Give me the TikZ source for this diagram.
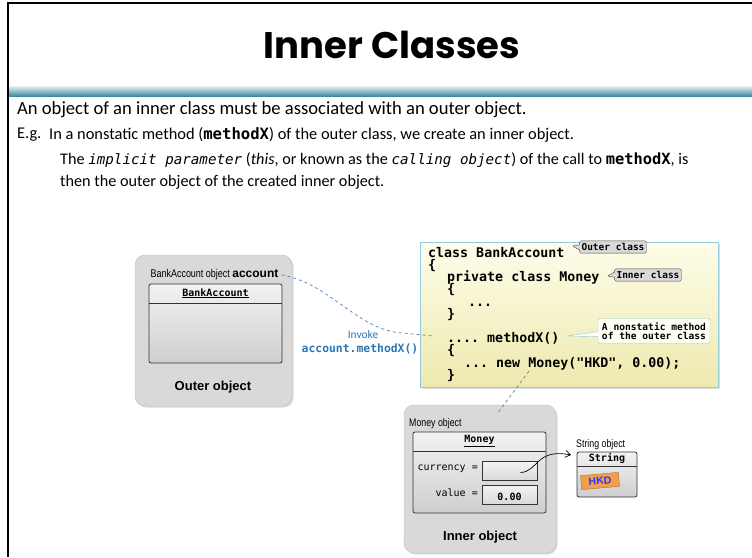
\documentclass[tikz,border=0pt]{standalone}
\usepackage{fontspec}
\setmainfont{Carlito}
\setmonofont{DejaVu Sans Mono}
\newfontfamily\titlefont{Poppins}
\newfontfamily\labelfont{Liberation Sans}
\newfontfamily\narrowfont[FakeStretch=0.8]{Liberation Sans}
\usetikzlibrary{positioning,shadows,shapes.callouts,arrows.meta}

\definecolor{panelgray}{HTML}{D9D9D9}
\definecolor{barteal}{HTML}{3C8BA3}
\definecolor{codeborder}{HTML}{93CDDD}
\definecolor{codetop}{HTML}{FDFDEA}
\definecolor{codebottom}{HTML}{EEE9AE}
\definecolor{linkblue}{HTML}{4F81BD}
\definecolor{invokeblue}{HTML}{2E75B6}
\definecolor{tagorange}{HTML}{F0A04B}
\definecolor{hkdblue}{HTML}{3333FF}

\newcommand{\setfs}[1]{\fontsize{#1}{#1}\selectfont}
% tight listing font
\newcommand{\codefont}{\fontsize{13.3}{12.2}\selectfont\setlength{\lineskiplimit}{-20pt}\ttfamily\bfseries}

\begin{document}
\begin{tikzpicture}[x=1pt,y=-1pt,
  every node/.style={inner sep=0pt},
  objpanel/.style={draw=gray!50,fill=panelgray,rounded corners=10pt,
    drop shadow={opacity=0.3,shadow xshift=1.5pt,shadow yshift=-1.5pt}},
  classbox/.style={draw=black!80,line width=0.8pt,rounded corners=2pt,
    top color=gray!10,bottom color=gray!38},
  fieldbox/.style={draw=black!80,line width=0.8pt,top color=gray!8,
    bottom color=gray!30,minimum width=55pt,minimum height=19pt},
  notetag/.style={rectangle callout,draw=gray!60!black,fill=panelgray,
    rounded corners=1.5pt,inner xsep=2pt,inner ysep=2.5pt,
    callout pointer width=5pt,font=\setfs{9.5}\ttfamily\bfseries},
  link/.style={draw=linkblue,dashed,line width=0.7pt},
  classname/.style={font=\setfs{10}\ttfamily\bfseries},
  fieldname/.style={font=\setfs{10}\ttfamily,anchor=east},
  objname/.style={font=\narrowfont\setfs{11},anchor=west},
  objcaption/.style={font=\labelfont\bfseries\setfs{13}}]

  \useasboundingbox (0,0) rectangle (752,557);

  % slide frame and title bar
  \draw[line width=2pt] (8,557) -- (8,3) -- (752,3);
  \shade[top color=barteal!12,bottom color=barteal] (9,86) rectangle (752,96);
  \node (title) at (392,45) {\titlefont\bfseries\setfs{37}Inner Classes};

  % text lines
  \node[anchor=west] (line1) at (17,110)
    {\setfs{18.6}An object of an inner class must be associated with an outer object.};
  \node[anchor=west] (eg) at (17,135) {\setfs{16.4}E.g.};
  \node[anchor=west] (line2) at (49,135)
    {\setfs{16.4}In a nonstatic method (\texttt{\bfseries\setfs{15.6}methodX}) of the outer class, we create an inner object.};
  \node[anchor=west] (line3) at (60,160)
    {\setfs{16.2}The \texttt{\itshape\setfs{14.2}implicit parameter} (\textit{this}, or known as the
     \texttt{\itshape\setfs{14.2}calling object}) of the call to \texttt{\bfseries\setfs{15.4}methodX}, is};
  \node[anchor=west] (line4) at (60,182)
    {\setfs{16.2}then the outer object of the created inner object.};

  % outer object
  \node[objpanel,minimum width=157pt,minimum height=151pt] (outer) at (213.5,330.5) {};
  \node (acclabel) at (214.5,275)
    {\narrowfont\setfs{11.2}BankAccount object {\labelfont\bfseries\setfs{12}account}};
  \node[classbox,minimum width=133pt,minimum height=79pt] (bankcls) at (215.5,323.5) {};
  \node[minimum height=19pt,anchor=north] (bankhdr) at (bankcls.north)
    {\setfs{10}\ttfamily\bfseries\underline{BankAccount}};
  \draw[black!80,line width=0.8pt] (bankcls.west |- bankhdr.south) -- (bankcls.east |- bankhdr.south);
  \node[objcaption] (outercap) at (213,387) {Outer object};

  % code of the outer class
  \node[draw=codeborder,line width=1pt,top color=codetop,bottom color=codebottom,
    minimum width=298pt,minimum height=145pt,
    drop shadow={opacity=0.25,shadow xshift=1.5pt,shadow yshift=-1.5pt}] (codebox) at (569,314.5) {};
  \node[anchor=north west,align=left,font=\codefont] (code) at (428,247)
    {class BankAccount\\
     \{\\
     \hspace*{19pt}private class Money\\
     \hspace*{19pt}\{\\
     \hspace*{40pt}...\\
     \hspace*{19pt}\}\\[12.2pt]
     \hspace*{19pt}.... methodX()\\
     \hspace*{19pt}\{\\
     \hspace*{36pt}... new Money("HKD", 0.00);\\
     \hspace*{19pt}\}};

  \node[notetag,callout absolute pointer={(572,246)}] (outertag) at (613,247) {Outer class};
  \node[notetag,callout absolute pointer={(607,276)}] (innertag) at (648,275) {Inner class};
  \node[notetag,draw=codeborder,fill=codetop!60,align=left,inner xsep=4pt,inner ysep=4pt,
    font=\fontsize{9.6}{9}\selectfont\ttfamily\bfseries,
    callout absolute pointer={(566,336)}] (methodtag) at (654,331)
    {A nonstatic method\\of the outer class};

  % the call on account
  \coordinate (callsite) at (433,336);
  \draw[link] ([xshift=3pt]acclabel.east) .. controls (330,283) and (358,331) .. (403,333) -- (callsite);
  \node[text=invokeblue] (invoke) at (363,335) {\setfs{11.5}Invoke};
  \node[text=invokeblue] (invokecall) at (360,349) {\setfs{11.4}\ttfamily\bfseries account.methodX()};

  % inner object
  \node[objpanel,minimum width=152pt,minimum height=148pt] (inner) at (480,479) {};
  \coordinate (newcall) at (529,371);
  \coordinate (innerref) at (497,414);
  \draw[link] (newcall) -- (innerref);
  \node[objname] (moneylabel) at (409,424) {Money object};
  \node[classbox,minimum width=133pt,minimum height=81pt] (moneycls) at (479.5,472.5) {};
  \node[minimum height=19pt,anchor=north] (moneyhdr) at (moneycls.north)
    {\setfs{10}\ttfamily\bfseries\underline{Money}};
  \draw[black!80,line width=0.8pt] (moneycls.west |- moneyhdr.south) -- (moneycls.east |- moneyhdr.south);
  \node[fieldbox] (curfield) at (509.5,470.5) {};
  \node[fieldbox] (valfield) at (509.5,494.5) {};
  \node[fieldname] (curname) at (478,469) {currency =};
  \node[fieldname] (valname) at (478,493) {value =};
  \node[classname] (valtext) at (509.5,496.5) {0.00};
  \node[objcaption] (innercap) at (480,537) {Inner object};

  % string object
  \node[objname] (strlabel) at (576,445) {String object};
  \node[classbox,minimum width=60pt,minimum height=45pt] (strcls) at (607,474.5) {};
  \node[minimum height=14pt,anchor=north] (strhdr) at (strcls.north)
    {\setfs{10}\ttfamily\bfseries String};
  \draw[black!80,line width=0.8pt] (strcls.west |- strhdr.south) -- (strcls.east |- strhdr.south);
  \node[draw=tagorange!70!black,fill=tagorange,rotate=5,minimum width=38pt,minimum height=14pt,
    text=hkdblue,font=\labelfont\bfseries\setfs{10.5}] (hkd) at (600,481) {HKD};

  \coordinate (curref) at ([xshift=11pt,yshift=-2pt]curfield.center);
  \coordinate (strref) at (571,455);
  \draw[-{Straight Barb[length=5pt,width=7pt]},line width=0.7pt] (curref) .. controls (538,472) and (536,448) .. (strref);
\end{tikzpicture}
\end{document}
